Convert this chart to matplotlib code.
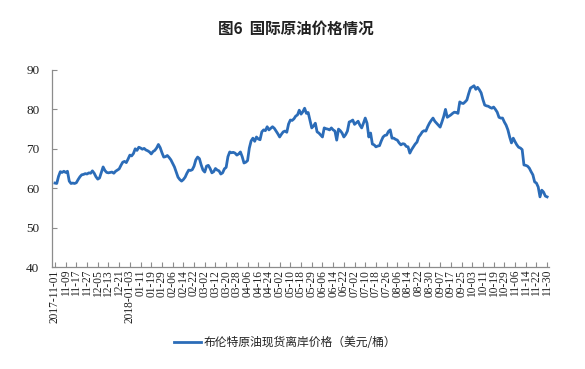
import numpy as np
import matplotlib
matplotlib.use('Agg')
import matplotlib.pyplot as plt
from matplotlib.lines import Line2D

plt.rcParams['font.family'] = ['Noto Sans CJK SC', 'DejaVu Sans']

# 布伦特原油现货离岸价格（美元/桶），每个交易日一个值，2017-11-01 至 2018-11-30
brent = [
    61.3, 61.2, 63.0, 64.2, 64.0, 64.3,
    64.0, 64.3, 61.8, 61.2, 61.3, 61.2,
    61.4, 62.2, 62.9, 63.4, 63.5, 63.7,
    63.6, 63.9, 63.8, 64.4, 63.8, 62.9,
    62.3, 62.6, 64.0, 65.4, 64.5, 64.0,
    63.9, 64.0, 64.1, 63.8, 64.3, 64.6,
    64.9, 65.8, 66.6, 66.8, 66.5, 67.4,
    68.4, 68.2, 68.8, 70.0, 69.6, 70.4,
    70.2, 69.9, 70.1, 69.7, 69.5, 69.2,
    68.7, 69.3, 69.6, 70.2, 71.1, 70.3,
    69.0, 67.9, 68.0, 68.3, 67.8, 67.2,
    66.3, 65.4, 64.1, 62.8, 62.2, 61.8,
    62.2, 62.8, 63.8, 64.6, 64.5, 64.7,
    65.6, 67.2, 67.9, 67.5, 65.9, 64.6,
    64.1, 65.6, 65.8, 65.0, 63.9, 64.2,
    65.0, 64.6, 64.4, 63.6, 63.9, 64.9,
    65.3, 68.0, 69.2, 69.0, 69.1, 68.9,
    68.4, 68.7, 69.2, 68.0, 66.4, 66.6,
    67.0, 70.2, 72.0, 72.7, 71.9, 73.0,
    72.5, 72.3, 74.3, 74.8, 74.6, 75.6,
    74.8, 75.2, 75.6, 75.2, 74.5, 73.8,
    73.0, 73.7, 74.3, 74.5, 74.2, 76.3,
    77.3, 77.2, 77.6, 78.3, 78.6, 79.8,
    78.8, 79.4, 80.3, 79.0, 79.2, 77.3,
    75.3, 75.8, 76.5, 74.3, 74.0, 73.5,
    73.0, 75.3, 75.1, 75.0, 74.8, 75.3,
    74.8, 74.5, 72.2, 75.0, 74.6, 74.0,
    73.0, 73.6, 74.5, 76.8, 77.0, 77.3,
    76.2, 76.6, 77.0, 76.0, 75.3, 76.5,
    77.8, 76.5, 73.0, 74.0, 71.2, 71.0,
    70.5, 70.7, 70.8, 72.0, 73.0, 73.4,
    73.5, 74.4, 74.8, 72.7, 72.7, 72.4,
    72.2, 71.5, 71.0, 71.3, 71.2, 70.6,
    70.5, 68.9, 69.8, 70.5, 71.2, 71.7,
    73.0, 73.6, 74.3, 74.6, 74.5, 75.6,
    76.5, 77.2, 77.8, 77.0, 76.5, 76.0,
    75.5, 76.8, 78.2, 80.0, 78.0, 78.3,
    78.6, 79.0, 79.3, 79.2, 79.0, 81.9,
    81.6, 81.5, 81.9, 82.4, 84.0, 85.4,
    85.7, 86.0, 85.1, 85.6, 85.0, 84.2,
    82.5, 81.1, 80.9, 80.8, 80.5, 80.3,
    80.6, 80.0, 79.3, 78.0, 77.8, 77.8,
    76.8, 76.0, 74.8, 73.0, 71.5, 72.7,
    71.8, 71.0, 70.4, 70.2, 69.8, 65.9,
    65.8, 65.6, 65.1, 64.2, 63.4, 61.6,
    61.3, 60.3, 57.8, 59.5, 59.0, 58.0,
    57.8,
]

tick_labels = [
    '2017-11-01', '11-09', '11-17', '11-27', '12-05', '12-13', '12-21',
    '2018-01-03', '01-11', '01-19', '01-29', '02-06', '02-14', '02-22',
    '03-02', '03-12', '03-20', '03-28', '04-06', '04-16', '04-24',
    '05-02', '05-10', '05-18', '05-29', '06-06', '06-14', '06-22',
    '07-02', '07-10', '07-18', '07-26', '08-06', '08-14', '08-22',
    '08-30', '09-07', '09-17', '09-25', '10-03', '10-11', '10-19',
    '10-29', '11-06', '11-14', '11-22', '11-30',
]
tick_step = 6

title = '图6  国际原油价格情况'
series_name = '布伦特原油现货离岸价格（美元/桶）'

fig = plt.figure(figsize=(5.85, 3.69), dpi=100)
ax = fig.add_axes([0.0897, 0.2764, 0.848, 0.5339])

x = np.arange(len(brent))
line_color = '#2B6CB8'
ax.plot(x, brent, color=line_color, lw=2.0, solid_joinstyle='round')

ax.set_xlim(-1.4, len(brent) - 1 + 0.8)
ax.set_ylim(40, 90)
ax.set_yticks(range(40, 91, 10))
ax.set_xticks(x[::tick_step])
ax.set_xticklabels(tick_labels, rotation=90, fontsize=8.3,
                   family=['Liberation Serif', 'DejaVu Serif'])
for lab in ax.get_yticklabels():
    lab.set_family(['Liberation Serif', 'DejaVu Serif'])
    lab.set_fontsize(9.5)

for s in ['top', 'right']:
    ax.spines[s].set_visible(False)
for s in ['left', 'bottom']:
    ax.spines[s].set_color('#8c8c8c')
    ax.spines[s].set_linewidth(0.9)
ax.tick_params(axis='both', direction='in', length=3.5, width=0.8,
               color='#8c8c8c', labelcolor='#222222')
ax.tick_params(axis='x', pad=2)
ax.tick_params(axis='y', pad=9.5)

fig.text(0.506, 1 - 29 / 369, title, ha='center', va='center',
         fontsize=11.2, fontweight='bold', color='#222222')

handle = Line2D([], [], color=line_color, lw=2.0)
fig.legend([handle], [series_name], loc='center',
           bbox_to_anchor=(0.487, 1 - 343 / 369), frameon=False,
           fontsize=8.5, handlelength=2.3, handletextpad=0.2,
           labelcolor='#222222')

fig.savefig('out.png', dpi=100)
